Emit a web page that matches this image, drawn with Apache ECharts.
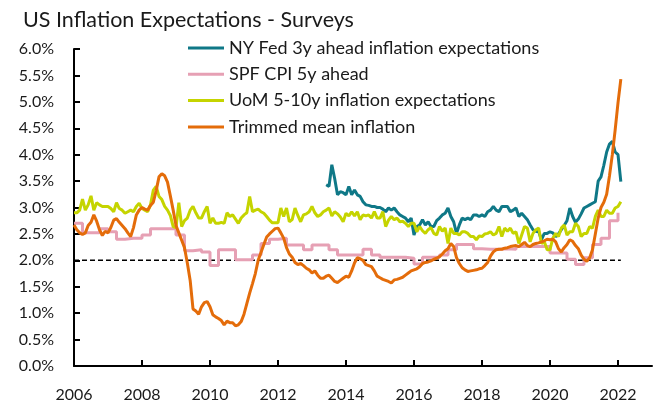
<!DOCTYPE html>
<html>
<head>
<meta charset="utf-8">
<script src="https://cdn.jsdelivr.net/npm/echarts@6/dist/echarts.min.js"></script>
<style>
    html, body { margin: 0; padding: 0; background: #fff; }
    #main { width: 659px; height: 403px; }
</style>
</head>
<body>
<div id="main"></div>
<script>
var seriesNames = ['NY Fed 3y ahead inflation expectations', 'SPF CPI 5y ahead', 'UoM 5-10y inflation expectations', 'Trimmed mean inflation'];
var seriesColors = ['#0f7887', '#e6a0b4', '#c5d400', '#e46c0a'];

// NY Fed, monthly from Jun 2013
var nyfedStart = 2013 + 5 / 12;
var nyfed = [
    3.43, 3.40, 3.81, 3.55, 3.24, 3.30, 3.28,
    3.24, 3.40, 3.24, 3.33, 3.24, 3.21, 3.11, 3.05, 3.04, 3.02, 3.02, 3.00,
    3.00, 2.97, 2.92, 2.99, 2.95, 2.99, 2.92, 2.86, 2.83, 2.80, 2.73, 2.80,
    2.48, 2.64, 2.67, 2.77, 2.67, 2.73, 2.64, 2.64, 2.75, 2.80, 2.86, 2.89,
    2.99, 2.83, 2.73, 2.51, 2.67, 2.80, 2.77, 2.80, 2.77, 2.86, 2.86, 2.83,
    2.86, 2.83, 2.92, 2.95, 3.02, 2.95, 2.92, 3.02, 3.02, 3.02, 2.92, 2.95,
    2.99, 2.83, 2.89, 2.83, 2.77, 2.67, 2.58, 2.55, 2.54, 2.39, 2.51, 2.51,
    2.54, 2.52, 2.45, 2.50, 2.58, 2.66, 2.75, 2.99, 2.83, 2.72, 2.78, 2.88,
    2.99, 3.02, 3.05, 3.08, 3.11, 3.50, 3.58, 3.80, 4.05, 4.20, 4.25, 4.05,
    4.00, 3.49
];

// SPF, quarterly from 2006Q1
var spfStart = 2006;
var spf = [
    2.70, 2.52, 2.52, 2.60,
    2.54, 2.40, 2.42, 2.42,
    2.48, 2.60, 2.60, 2.60,
    2.48, 2.18, 2.20, 2.16,
    1.90, 2.20, 2.20, 2.01,
    2.01, 2.10, 2.32, 2.40,
    2.42, 2.29, 2.29, 2.20,
    2.29, 2.29, 2.20, 2.10,
    2.10, 2.10, 2.21, 2.10,
    2.06, 2.06, 2.06, 2.04,
    1.93, 2.06, 2.06, 2.10,
    2.20, 2.30, 2.30, 2.22,
    2.21, 2.21, 2.22, 2.21,
    2.26, 2.26, 2.26, 2.26,
    2.14, 2.14, 2.02, 1.92,
    2.05, 2.30, 2.42, 2.75,
    2.90
];

// UoM, monthly from Jan 2006
var uomStart = 2006;
var uom = [
    2.90, 2.90, 2.95, 3.16, 2.95, 3.05, 3.22, 2.95, 3.09, 3.05, 3.02, 3.02,
    3.02, 2.98, 2.92, 3.09, 2.98, 2.95, 2.89, 2.92, 2.95, 2.92, 3.02, 3.08,
    2.98, 2.95, 2.92, 3.05, 3.33, 3.40, 3.21, 3.15, 3.02, 2.95, 2.85, 2.64,
    2.62, 3.09, 2.64, 2.75, 2.80, 2.95, 3.02, 2.90, 2.80, 2.80, 2.92, 3.02,
    2.70, 2.80, 2.70, 2.70, 2.72, 2.70, 2.90, 2.83, 2.86, 2.78, 2.70, 2.80,
    2.86, 2.90, 3.21, 2.92, 2.95, 2.97, 2.92, 2.89, 2.83, 2.76, 2.71, 2.71,
    2.71, 2.99, 2.83, 2.99, 2.73, 2.77, 2.99, 2.85, 2.73, 2.86, 2.88, 2.92,
    3.02, 2.90, 2.83, 2.86, 2.92, 2.95, 2.99, 2.84, 2.92, 2.88, 2.82, 2.73,
    2.89, 2.84, 2.92, 2.84, 2.92, 2.77, 2.86, 2.84, 2.86, 2.80, 2.92, 2.80,
    2.80, 2.92, 2.64, 2.76, 2.83, 2.77, 2.80, 2.73, 2.74, 2.70, 2.64, 2.70,
    2.70, 2.54, 2.64, 2.56, 2.51, 2.58, 2.62, 2.51, 2.48, 2.64, 2.55, 2.61,
    2.32, 2.61, 2.51, 2.51, 2.48, 2.54, 2.54, 2.51, 2.45, 2.45, 2.39, 2.46,
    2.45, 2.50, 2.51, 2.54, 2.48, 2.51, 2.64, 2.45, 2.61, 2.55, 2.61, 2.51,
    2.54, 2.32, 2.48, 2.64, 2.61, 2.35, 2.51, 2.58, 2.61, 2.32, 2.35, 2.20,
    2.20, 2.42, 2.51, 2.45, 2.61, 2.67, 2.48, 2.54, 2.54, 2.70, 2.64, 2.45,
    2.51, 2.51, 2.64, 2.61, 2.83, 2.95, 2.83, 2.83, 2.95, 2.89, 2.89, 2.99,
    3.02, 3.11
];

// Trimmed mean, monthly from Jan 2006
var trimStart = 2006;
var trimmed = [
    2.67, 2.58, 2.52, 2.49, 2.52, 2.66, 2.72, 2.86, 2.74, 2.58, 2.47, 2.55,
    2.52, 2.62, 2.76, 2.79, 2.72, 2.66, 2.60, 2.52, 2.45, 2.62, 2.86, 2.95,
    3.00, 2.97, 2.95, 3.04, 3.10, 3.32, 3.58, 3.64, 3.60, 3.48, 3.22, 2.95,
    2.66, 2.52, 2.38, 2.24, 1.95, 1.62, 1.08, 1.04, 0.98, 1.12, 1.20, 1.22,
    1.12, 0.97, 0.93, 0.90, 0.86, 0.78, 0.85, 0.82, 0.82, 0.76, 0.78, 0.84,
    0.98, 1.18, 1.38, 1.56, 1.75, 2.00, 2.15, 2.30, 2.44, 2.50, 2.55, 2.60,
    2.61, 2.52, 2.42, 2.24, 2.12, 2.06, 1.96, 1.92, 1.94, 1.90, 1.85, 1.82,
    1.76, 1.80, 1.72, 1.66, 1.66, 1.70, 1.72, 1.66, 1.60, 1.58, 1.62, 1.66,
    1.70, 1.68, 1.80, 1.95, 2.05, 2.03, 2.00, 1.92, 1.90, 1.88, 1.80, 1.70,
    1.67, 1.64, 1.62, 1.60, 1.57, 1.63, 1.64, 1.66, 1.68, 1.72, 1.76, 1.80,
    1.82, 1.84, 1.88, 1.94, 1.96, 1.97, 1.99, 2.02, 2.04, 2.07, 2.12, 2.18,
    2.22, 2.32, 2.26, 2.05, 1.94, 1.86, 1.82, 1.79, 1.80, 1.81, 1.82, 1.84,
    1.85, 1.90, 1.96, 2.08, 2.16, 2.20, 2.21, 2.21, 2.23, 2.24, 2.26, 2.27,
    2.28, 2.26, 2.30, 2.34, 2.28, 2.26, 2.30, 2.32, 2.33, 2.35, 2.37, 2.40,
    2.39, 2.40, 2.35, 2.22, 2.16, 2.24, 2.30, 2.39, 2.36, 2.28, 2.22, 2.10,
    2.02, 1.98, 2.05, 2.20, 2.50, 2.80, 3.00, 3.10, 3.25, 3.60, 4.00, 4.47,
    4.98, 5.43
];

var targetRate = 2.0;
var xMin = 2006, xMax = 2023, xStep = 2;
var yMin = 0, yMax = 6, yStep = 0.5;

function monthly(start, values) {
    return values.map(function (v, i) { return [start + i / 12, v]; });
}
function quarterly(start, values) {
    return values.map(function (v, i) { return [start + i / 4, v]; });
}

var trimData = monthly(trimStart, trimmed);
var targetData = [[trimData[0][0], targetRate], [trimData[trimData.length - 1][0], targetRate]];

var font = 'Lato, "Liberation Sans", sans-serif';
var myChart = echarts.init(document.getElementById('main'));

function line(i, data, extra) {
    var s = {
        name: seriesNames[i],
        type: 'line',
        data: data,
        symbol: 'none',
        showSymbol: false,
        lineStyle: { width: 3, color: seriesColors[i] },
        itemStyle: { color: seriesColors[i] }
    };
    for (var k in extra) s[k] = extra[k];
    return s;
}

var option = {
    animation: false,
    backgroundColor: '#fff',
    title: {
        text: 'US Inflation Expectations - Surveys',
        left: 18, top: 4,
        textStyle: { fontFamily: font, fontSize: 21.5, fontWeight: 'normal', color: '#1a1a1a' }
    },
    legend: {
        orient: 'vertical',
        left: 188, top: 38,
        padding: 0,
        icon: 'rect',
        itemWidth: 36, itemHeight: 3,
        itemGap: 6.3,
        data: seriesNames,
        textStyle: { fontFamily: font, fontSize: 18, color: '#1a1a1a', lineHeight: 20 }
    },
    grid: { left: 74, right: 7, top: 49, bottom: 37 },
    xAxis: {
        type: 'value',
        min: xMin, max: xMax, interval: xStep,
        axisLine: { lineStyle: { color: '#000', width: 2 } },
        axisTick: { inside: true, length: 6, lineStyle: { color: '#000', width: 2 } },
        splitLine: { show: false },
        axisLabel: {
            margin: 21,
            fontFamily: font, fontSize: 16, color: '#1a1a1a',
            showMaxLabel: false,
            formatter: function (v) { return (v - xMin) % xStep === 0 ? String(v) : ''; }
        }
    },
    yAxis: {
        type: 'value',
        min: yMin, max: yMax, interval: yStep,
        axisLine: { show: true, lineStyle: { color: '#000', width: 2 } },
        axisTick: { show: true, inside: true, length: 6, lineStyle: { color: '#000', width: 2 } },
        splitLine: { show: false },
        axisLabel: {
            margin: 20,
            fontFamily: font, fontSize: 16, color: '#1a1a1a',
            formatter: function (v) { return v.toFixed(1) + '%'; }
        }
    },
    series: [
        {
            name: 'target',
            type: 'line',
            data: targetData,
            symbol: 'none',
            silent: true,
            lineStyle: { color: '#000', width: 1.5, type: [5, 3] }
        },
        line(0, monthly(nyfedStart, nyfed)),
        line(1, quarterly(spfStart, spf), { step: 'end' }),
        line(2, monthly(uomStart, uom)),
        line(3, trimData)
    ]
};
myChart.setOption(option);
</script>
</body>
</html>
